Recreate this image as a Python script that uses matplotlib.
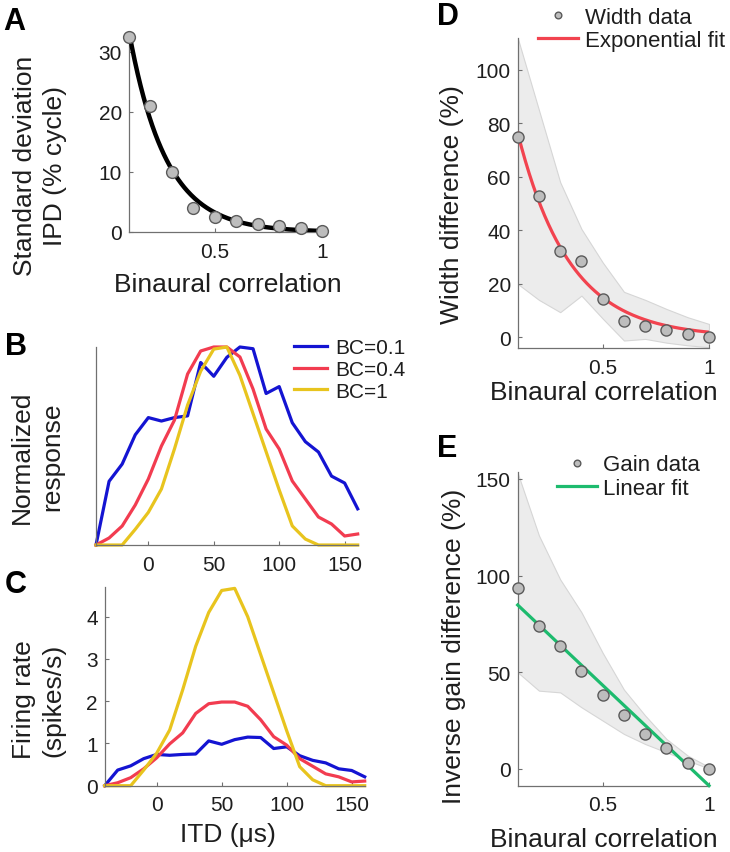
import matplotlib
matplotlib.use("Agg")
import matplotlib.pyplot as plt
import numpy as np

plt.rcParams["font.family"] = ["Liberation Sans", "DejaVu Sans"]

# ---------------- data ----------------
bc = np.array([0.1, 0.2, 0.3, 0.4, 0.5, 0.6, 0.7, 0.8, 0.9, 1.0])

# A: IPD standard deviation (% cycle)
ipd_sd = [32.5, 21.0, 10.0, 4.0, 2.5, 1.8, 1.4, 1.0, 0.7, 0.1]

# B/C: firing rate vs ITD for three binaural correlations
itd = np.arange(-40, 161, 10)
rate_bc01 = [0.0, 0.37, 0.47, 0.64, 0.74, 0.72, 0.74, 0.75, 1.06, 0.98, 1.09,
             1.15, 1.14, 0.88, 0.92, 0.71, 0.60, 0.54, 0.40, 0.36, 0.21]
rate_bc04 = [0.0, 0.07, 0.19, 0.40, 0.66, 0.99, 1.25, 1.71, 1.94, 1.98, 1.98,
             1.88, 1.56, 1.16, 0.96, 0.64, 0.46, 0.28, 0.21, 0.09, 0.11]
rate_bc1 = [0.0, 0.0, 0.0, 0.37, 0.77, 1.32, 2.27, 3.30, 4.10, 4.62, 4.67,
            4.00, 3.10, 2.20, 1.30, 0.45, 0.14, 0.0, 0.0, 0.0, 0.0]
curve_labels = ["BC=0.1", "BC=0.4", "BC=1"]
curve_colors = ["#1414d2", "#f23c50", "#e8c41e"]

# D: width difference (%)
width_diff = [74.8, 53.0, 32.4, 28.4, 14.3, 6.2, 4.1, 2.7, 1.2, 0.0]
width_hi = [112, 85, 58, 40.5, 28, 17, 14, 10.6, 7.5, 5]
width_lo = [20, 14, 9.4, 15.6, 7, -1.2, -0.6, -2, -3, -3.7]

# E: inverse gain difference (%)
gain_diff = [93.6, 74.1, 63.8, 50.9, 38.3, 28.1, 18.1, 10.9, 3.1, 0.0]
gain_hi = [153, 120.7, 98, 81, 60, 41, 27.6, 15.5, 6.9, 1.0]
gain_lo = [50, 40.5, 39.6, 31.9, 25, 18.1, 12.9, 8.6, 4.3, 0.3]


def fit_exp(x, y):
    # least squares fit of a*exp(-b*x)
    x = np.asarray(x, float)
    y = np.asarray(y, float)
    best = None
    for b in np.linspace(0.1, 20, 4000):
        e = np.exp(-b * x)
        a = e.dot(y) / e.dot(e)
        sse = np.sum((y - a * e) ** 2)
        if best is None or sse < best[0]:
            best = (sse, a, b)
    return best[1], best[2]


TXT = "#1e1e1e"
SPINE = "#707070"
TICK_FS = 15
LAB_FS = 19
W, H = 730, 853


def place(l, t, r, b):
    # pixel box -> figure fraction
    return [l / W, 1 - b / H, (r - l) / W, (b - t) / H]


def style(ax):
    for s in ["top", "right"]:
        ax.spines[s].set_visible(False)
    for s in ["left", "bottom"]:
        ax.spines[s].set_color(SPINE)
        ax.spines[s].set_linewidth(0.9)
    ax.tick_params(direction="in", length=3, width=0.8, color=SPINE,
                   labelsize=TICK_FS, labelcolor=TXT, pad=5)
    ax.tick_params(axis="x", pad=7)


fig = plt.figure(figsize=(7.3, 8.53), dpi=100)

dot = dict(marker="o", ls="none", ms=8.5, mfc="#bdbdbd", mec="#5a5a5a",
           mew=1.0, clip_on=False, zorder=4)

# ---------------- A ----------------
axA = fig.add_axes(place(129, 39, 322, 233))
style(axA)
xf = np.linspace(0.1, 1, 200)
a, b = fit_exp(bc, ipd_sd)
axA.plot(xf, a * np.exp(-b * xf), color="black", lw=3.2, zorder=3)
axA.plot(bc, ipd_sd, **dot)
axA.set_xlim(0.1, 1)
axA.set_ylim(0, 32.3)
axA.set_xticks([0.5, 1])
axA.set_xticklabels(["0.5", "1"])
axA.set_yticks([0, 10, 20, 30])
axA.set_xlabel("Binaural correlation", fontsize=LAB_FS, color=TXT, va="center")
axA.xaxis.set_label_coords(0.51, -0.268)
axA.set_ylabel("Standard deviation\nIPD (% cycle)", fontsize=LAB_FS, color=TXT,
               va="center", linespacing=1.3)
axA.yaxis.set_label_coords(-0.461, 0.345)

# ---------------- B ----------------
rates = [rate_bc01, rate_bc04, rate_bc1]
axB = fig.add_axes(place(96, 348, 357.7, 546))
style(axB)
for r, lab, c in zip(rates, curve_labels, curve_colors):
    r = np.asarray(r)
    axB.plot(itd, r / r.max(), color=c, lw=2.3, label=lab, clip_on=False)
axB.set_xlim(-40, 160)
axB.set_ylim(0, 1)
axB.set_xticks([0, 50, 100, 150])
axB.set_yticks([])
axB.set_ylabel("Normalized\nresponse", fontsize=LAB_FS, color=TXT,
               va="center", linespacing=1.3)
axB.yaxis.set_label_coords(-0.225, 0.449)
axB.legend(loc="upper left", bbox_to_anchor=(294 / W, 1 - 339.5 / H),
           bbox_transform=fig.transFigure, frameon=False, fontsize=15,
           handlelength=1.6, handletextpad=0.4, labelspacing=0.12,
           borderpad=0, borderaxespad=0, labelcolor=TXT)

# ---------------- C ----------------
axC = fig.add_axes(place(104.7, 588.1, 364.7, 786.7))
style(axC)
for r, c in zip(rates, curve_colors):
    axC.plot(itd, r, color=c, lw=2.3, clip_on=False)
axC.set_xlim(-40, 160)
axC.set_ylim(0, 4.7)
axC.set_xticks([0, 50, 100, 150])
axC.set_yticks([0, 1, 2, 3, 4])
axC.set_xlabel("ITD (μs)", fontsize=LAB_FS, color=TXT, va="center")
axC.xaxis.set_label_coords(0.474, -0.243)
axC.set_ylabel("Firing rate\n(spikes/s)", fontsize=LAB_FS, color=TXT,
               va="center", linespacing=1.3)
axC.yaxis.set_label_coords(-0.253, 0.437)

band = dict(facecolor="#ececec", edgecolor="#d6d6d6", lw=0.8, zorder=1)
dot2 = dict(dot, ms=8)

# ---------------- D ----------------
axD = fig.add_axes(place(517.7, 38.9, 709, 349))
style(axD)
axD.fill_between(bc, width_lo, width_hi, **band)
a, b = fit_exp(bc, width_diff)
axD.plot(xf, a * np.exp(-b * xf), color="#f2434f", lw=2.3, zorder=3,
         label="Exponential fit")
axD.plot(bc, width_diff, label="Width data", **dot2)
axD.set_xlim(0.1, 1)
axD.set_ylim(-4, 112)
axD.set_xticks([0.5, 1])
axD.set_xticklabels(["0.5", "1"])
axD.set_yticks([0, 20, 40, 60, 80, 100])
axD.set_xlabel("Binaural correlation", fontsize=LAB_FS, color=TXT, va="center")
axD.xaxis.set_label_coords(0.451, -0.142)
axD.set_ylabel("Width difference (%)", fontsize=LAB_FS, color=TXT, va="center")
axD.yaxis.set_label_coords(-0.343, 0.465)
h, l = axD.get_legend_handles_labels()
axD.legend(h[::-1], l[::-1], loc="upper left",
           bbox_to_anchor=(538 / W, 1 - 7.5 / H), bbox_transform=fig.transFigure,
           frameon=False, fontsize=16, markerscale=0.6, handlelength=1.8,
           handletextpad=0.3, labelspacing=0.12, borderpad=0,
           borderaxespad=0, labelcolor=TXT)

# ---------------- E ----------------
axE = fig.add_axes(place(517.7, 473.3, 709, 786.6))
style(axE)
axE.fill_between(bc, gain_lo, gain_hi, **band)
slope, icpt = np.polyfit(bc, gain_diff, 1)
axE.plot(xf, slope * xf + icpt, color="#1dbb6e", lw=2.3, zorder=3,
         label="Linear fit", clip_on=False)
axE.plot(bc, gain_diff, label="Gain data", **dot2)
axE.set_xlim(0.1, 1)
axE.set_ylim(-8.6, 153.4)
axE.set_xticks([0.5, 1])
axE.set_xticklabels(["0.5", "1"])
axE.set_yticks([0, 50, 100, 150])
axE.set_xlabel("Binaural correlation", fontsize=LAB_FS, color=TXT, va="center")
axE.xaxis.set_label_coords(0.451, -0.170)
axE.set_ylabel("Inverse gain difference (%)", fontsize=LAB_FS, color=TXT,
               va="center")
axE.yaxis.set_label_coords(-0.333, 0.446)
h, l = axE.get_legend_handles_labels()
axE.legend(h[::-1], l[::-1], loc="upper left",
           bbox_to_anchor=(556.7 / W, 1 - 455.5 / H), bbox_transform=fig.transFigure,
           frameon=False, fontsize=16, markerscale=0.6, handlelength=1.8,
           handletextpad=0.3, labelspacing=0.12, borderpad=0,
           borderaxespad=0, labelcolor=TXT)

# panel letters
for letter, x, y in [("A", 3, 30), ("B", 5, 355), ("C", 5, 593),
                     ("D", 436.7, 25), ("E", 436.7, 457)]:
    fig.text(x / W, 1 - y / H, letter, fontsize=22, fontweight="bold",
             color="black", va="baseline", ha="left")

fig.savefig("out.png", dpi=100)
